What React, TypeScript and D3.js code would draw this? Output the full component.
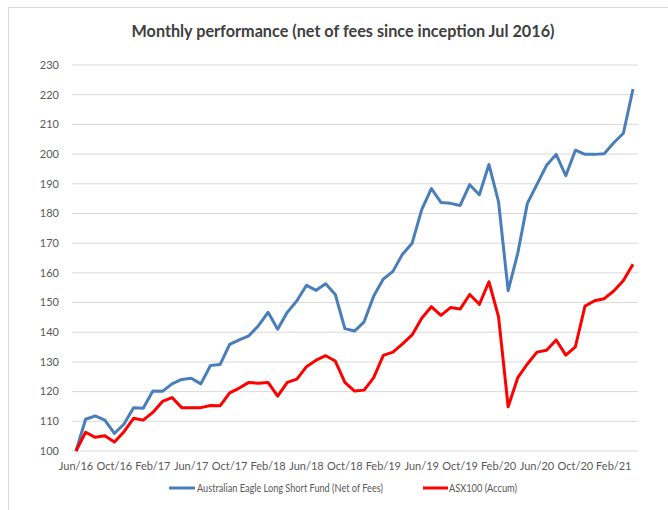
import React from "react";
import * as d3 from "d3";

const width = 668;
const height = 510;

// Jun/16 .. Apr/21, monthly
const months = d3.timeMonths(new Date(2016, 5, 1), new Date(2021, 4, 1));

const fund = [
  100, 110.7, 111.8, 110.4, 105.9, 109.1, 114.6, 114.4, 120.2, 120.1,
  122.6, 124.1, 124.5, 122.6, 128.8, 129.1, 135.9, 137.4, 138.8, 142.2,
  146.7, 141.0, 146.7, 150.6, 155.8, 154.1, 156.3, 152.7, 141.2, 140.4,
  143.5, 152.2, 157.9, 160.5, 166.3, 170.0, 181.3, 188.4, 183.7, 183.4,
  182.7, 189.7, 186.3, 196.5, 183.9, 154.0, 166.6, 183.4, 189.8, 196.2,
  199.9, 192.7, 201.3, 199.9, 199.9, 200.1, 203.8, 207.0, 221.9,
];

const asx = [
  100, 106.3, 104.6, 105.1, 103.0, 106.5, 111.0, 110.4, 113.0, 116.7,
  118.0, 114.6, 114.6, 114.6, 115.3, 115.2, 119.6, 121.2, 123.1, 122.8,
  123.1, 118.5, 123.1, 124.2, 128.4, 130.6, 132.1, 130.3, 123.1, 120.2,
  120.5, 124.7, 132.2, 133.3, 136.1, 139.1, 144.7, 148.6, 145.7, 148.3,
  147.8, 152.7, 149.4, 157.0, 145.2, 114.9, 124.7, 129.3, 133.3, 133.9,
  137.4, 132.3, 135.1, 148.8, 150.6, 151.3, 153.9, 157.4, 162.9,
];

const yTicks = d3.range(100, 231, 10);
const fmt = d3.timeFormat("%b/%y");
const seriesNames = ["Australian Eagle Long Short Fund (Net of Fees)", "ASX100 (Accum)"];
const colors = ["#4a7ebb", "#ff0000"];

const x = d3
  .scalePoint<number>()
  .domain(d3.range(months.length))
  .range([76, 633]);
const y = d3.scaleLinear().domain([100, 230]).range([451, 65]);

const line = d3
  .line<number>()
  .x((_, i) => x(i) as number)
  .y((d) => y(d));

const font = "Lato, 'Open Sans', sans-serif";

export default function App() {
  return (
    <svg
      width={width}
      height={height}
      style={{ position: "absolute", left: 0, top: 0, background: "#fff" }}
    >
      <rect x={8.5} y={7.5} width={700} height={600} fill="#fff" stroke="#d9d9d9" />
      <text
        x={343}
        y={37}
        textAnchor="middle"
        fontFamily={font}
        fontWeight="bold"
        fontSize={17}
        fill="#404040"
        textLength={423}
        lengthAdjust="spacingAndGlyphs"
      >
        Monthly performance (net of fees since inception Jul 2016)
      </text>

      {yTicks.map((t) => (
        <g key={t}>
          <line x1={72} x2={638} y1={y(t)} y2={y(t)} stroke="#d9d9d9" strokeWidth={1} />
          <text
            x={59}
            y={y(t)}
            dy="0.35em"
            textAnchor="end"
            fontFamily={font}
            fontSize={11}
            fill="#595959"
          >
            {t}
          </text>
        </g>
      ))}

      {months.map((m, i) =>
        i % 4 === 0 ? (
          <text
            key={i}
            x={x(i)}
            y={470}
            textAnchor="middle"
            fontFamily={font}
            fontSize={11}
            fill="#595959"
          >
            {fmt(m)}
          </text>
        ) : null
      )}

      <path d={line(fund) ?? ""} fill="none" stroke={colors[0]} strokeWidth={3} strokeLinejoin="round" />
      <path d={line(asx) ?? ""} fill="none" stroke={colors[1]} strokeWidth={3} strokeLinejoin="round" />

      <g fontFamily={font} fontSize={11} fill="#595959">
        <line x1={169} x2={195} y1={488} y2={488} stroke={colors[0]} strokeWidth={3} />
        <text x={197} y={492} textLength={186} lengthAdjust="spacingAndGlyphs">
          {seriesNames[0]}
        </text>
        <line x1={423} x2={448} y1={488} y2={488} stroke={colors[1]} strokeWidth={3} />
        <text x={449} y={492} textLength={68} lengthAdjust="spacingAndGlyphs">
          {seriesNames[1]}
        </text>
      </g>
    </svg>
  );
}
